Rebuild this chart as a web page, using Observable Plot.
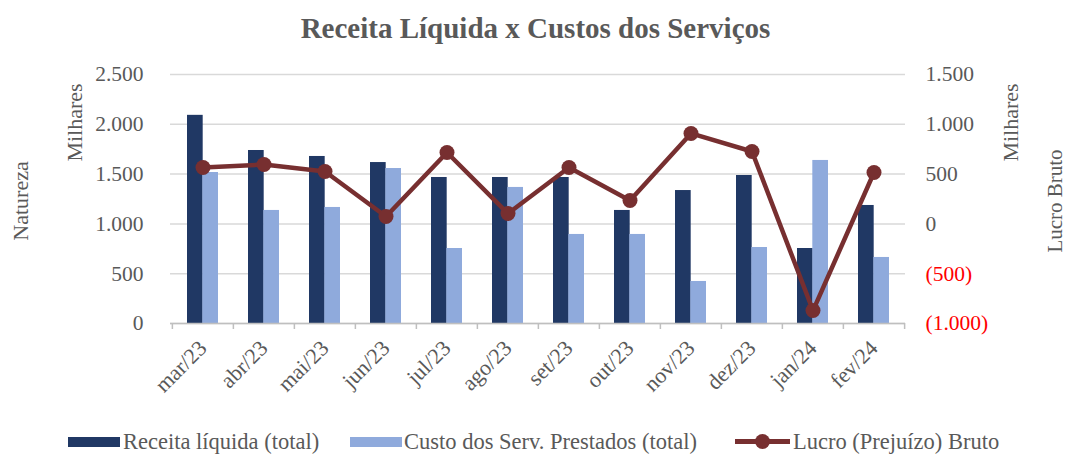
<!DOCTYPE html>
<html><head><meta charset="utf-8">
<script src="https://cdn.jsdelivr.net/npm/d3@7"></script>
<script src="https://cdn.jsdelivr.net/npm/@observablehq/plot@0.6"></script>
<style>
body{margin:0;background:#fff;font-family:"Liberation Serif",serif;color:#595959;}
#wrap{position:relative;width:1071px;height:456px;overflow:hidden;}
#title{height:54px;line-height:56px;text-align:center;font-size:29px;font-weight:bold;}
#chart{height:376px;}
.leg{position:absolute;top:428px;font-size:22.5px;line-height:28px;white-space:nowrap;}
</style></head>
<body><div id="wrap"><div id="title">Receita Líquida x Custos dos Serviços</div><div id="chart"></div></div>
<script>
const meses = ["mar/23","abr/23","mai/23","jun/23","jul/23","ago/23","set/23","out/23","nov/23","dez/23","jan/24","fev/24"];
const receita = [2090,1737,1677,1616,1466,1466,1466,1135,1335,1486,753,1185];
const custo = [1516,1135,1165,1556,753,1366,894,894,422,763,1637,663];
const lucro = [566,596,526,74,717,104,566,235,908,727,-870,516];
const leftTicks = [0,500,1000,1500,2000,2500];
const rightTicks = [-1000,-500,0,500,1000,1500];
const series = ["Receita líquida (total)","Custo dos Serv. Prestados (total)","Lucro (Prejuízo) Bruto"];
const colors = ["#203864","#8faadc","#772f30"];

const loc = d3.formatLocale({thousands:".", decimal:",", grouping:[3], currency:["",""]});
const f = loc.format(",.0f");
const fR = v => v < 0 ? "(" + f(-v) + ")" : f(v);
const lMin = 0, lMax = 2500, rMin = -1000, rMax = 1500;
const toLeft = v => (v - rMin) * (lMax - lMin) / (rMax - rMin) + lMin;

const data = meses.map((m,i)=>({m, receita:receita[i], custo:custo[i], lucro:lucro[i]}));
const W = 1071, mL = 170, mR = 166;
const step = (W - mL - mR) / meses.length;
const half = step * 0.5 / 2;
const gray = "#595959";
const tickFont = 21.5;

const chart = Plot.plot({
  width: W, height: 376,
  marginLeft: mL, marginRight: mR, marginTop: 20, marginBottom: 107,
  style: {fontFamily: "Liberation Serif", fontSize: "21px", color: gray, background: "#fff", overflow: "visible"},
  x: {type: "band", domain: meses, paddingInner: 0.5, paddingOuter: 0.25, label: null},
  y: {domain: [lMin, lMax], label: null},
  marks: [
    Plot.ruleY(leftTicks, {stroke: "#d9d9d9", strokeWidth: 1.5}),
    Plot.barY(data, {x: "m", y: "receita", fill: colors[0], insetRight: half}),
    Plot.barY(data, {x: "m", y: "custo", fill: colors[1], insetLeft: half}),
    Plot.ruleY([0], {stroke: "#bfbfbf", strokeWidth: 1.5}),
    Plot.axisX({text: null, tickSize: 6, dx: -step/2, stroke: "#bfbfbf", strokeWidth: 1.5, label: null}),
    Plot.axisX({ticks: [meses[meses.length-1]], text: null, tickSize: 6, dx: step/2, stroke: "#bfbfbf", strokeWidth: 1.5, label: null}),
    Plot.axisX({tickSize: 0, tickRotate: -45, tickPadding: 21, fontSize: 22, fill: gray, label: null}),
    Plot.axisY({ticks: leftTicks, tickSize: 0, tickPadding: 27, tickFormat: f, fontSize: tickFont, fill: gray, label: null}),
    Plot.text(rightTicks, {y: d => toLeft(d), text: d => fR(d), frameAnchor: "right", textAnchor: "start", dx: 20, fill: d => d < 0 ? "#ff0000" : gray, fontSize: tickFont}),
    Plot.line(data, {x: "m", y: d => toLeft(d.lucro), stroke: colors[2], strokeWidth: 4.5}),
    Plot.dot(data, {x: "m", y: d => toLeft(d.lucro), r: 7.5, fill: colors[2]}),
    Plot.text(["Natureza"], {frameAnchor: "left", textAnchor: "middle", dx: -150, dy: 2, rotate: -90, fontSize: 22, fill: gray}),
    Plot.text(["Milhares"], {frameAnchor: "top-left", textAnchor: "middle", dx: -104, dy: 48, rotate: -90, fontSize: 22, fill: gray}),
    Plot.text(["Milhares"], {frameAnchor: "top-right", textAnchor: "middle", dx: 97, dy: 48, rotate: -90, fontSize: 22, fill: gray}),
    Plot.text(["Lucro Bruto"], {frameAnchor: "right", textAnchor: "middle", dx: 150, dy: 2, rotate: -90, fontSize: 21, fill: gray})
  ]
});
document.getElementById("chart").appendChild(chart);

const wrap = document.getElementById("wrap");
const legPos = [{sw:68, tx:123},{sw:350, tx:404},{sw:735, tx:793}];
series.forEach((s,i)=>{
  const d = document.createElement("div");
  d.className = "leg"; d.style.left = legPos[i].tx + "px"; d.textContent = s;
  wrap.appendChild(d);
  const sw = document.createElement("div");
  sw.style.position = "absolute"; sw.style.left = legPos[i].sw + "px";
  if (i < 2) {
    sw.style.top = "437px"; sw.style.width = "52px"; sw.style.height = "10px"; sw.style.background = colors[i];
  } else {
    sw.style.top = "439px"; sw.style.width = "55px"; sw.style.height = "5px"; sw.style.background = colors[i];
    const c = document.createElement("div");
    c.style.position = "absolute"; c.style.left = (legPos[i].sw + 20) + "px"; c.style.top = "434px";
    c.style.width = "15px"; c.style.height = "15px"; c.style.borderRadius = "50%"; c.style.background = colors[i];
    wrap.appendChild(c);
  }
  wrap.appendChild(sw);
});
</script></body></html>
